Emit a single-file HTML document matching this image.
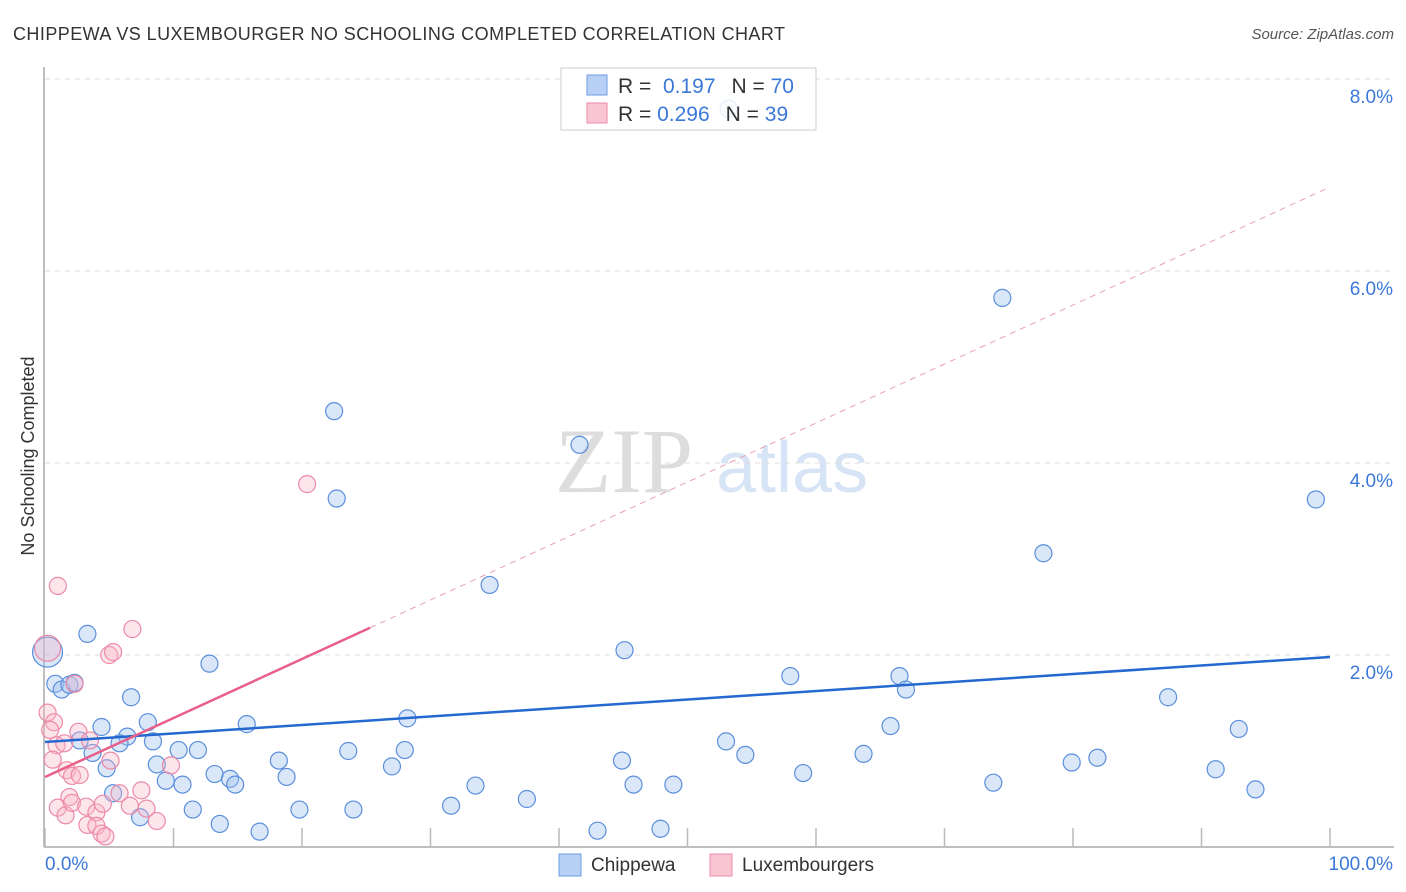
<!DOCTYPE html>
<html><head><meta charset="utf-8"><style>
body{margin:0;background:#fff;font-family:"Liberation Sans",sans-serif}
svg{display:block}
</style></head><body>
<svg id="c" width="1406" height="892" xmlns="http://www.w3.org/2000/svg">
<text x="13" y="40" font-size="18" fill="#333" textLength="772">CHIPPEWA VS LUXEMBOURGER NO SCHOOLING COMPLETED CORRELATION CHART</text>
<text x="1394" y="39" font-size="15" fill="#555" font-style="italic" text-anchor="end">Source: ZipAtlas.com</text>
<text x="0" y="0" transform="translate(34,456) rotate(-90)" font-size="18" fill="#333" text-anchor="middle">No Schooling Completed</text>
<g><text x="555" y="492" font-size="92" font-family="Liberation Serif" fill="#ddd">ZIP</text><text x="716" y="492" font-size="72" fill="#d6e4f5">atlas</text></g>
<g id="grid"></g><g id="pts"></g><g id="lines"></g>
<g>
<rect x="561" y="68" width="255" height="62" fill="rgba(255,255,255,0.85)" stroke="#ccc"/>
<rect x="587" y="75" width="20" height="20" fill="#b8d0f5" stroke="#6a9be0"/>
<rect x="587" y="103" width="20" height="20" fill="#fac5d3" stroke="#ec8aa8"/>
<text x="618" y="93" font-size="21" fill="#333">R = <tspan fill="#3b78d8">&#160;0.197</tspan><tspan dx="16">N = </tspan><tspan fill="#3b78d8">70</tspan></text>
<text x="618" y="121" font-size="21" fill="#333">R = <tspan fill="#3b78d8">0.296</tspan><tspan dx="16">N = </tspan><tspan fill="#3b78d8">39</tspan></text>
</g>
<g>
<rect x="559" y="854" width="22" height="22" fill="#b8d0f5" stroke="#6a9be0"/>
<text x="591" y="871" font-size="19" fill="#333">Chippewa</text>
<rect x="710" y="854" width="22" height="22" fill="#fac5d3" stroke="#ec8aa8"/>
<text x="742" y="871" font-size="19" fill="#333">Luxembourgers</text>
</g>
</svg>
<script>
const blueX=[0.2,0.8,1.3,1.9,2.3,3.3,6.7,4.4,6.4,5.8,2.7,3.7,8.0,8.4,8.7,4.8,5.3,7.4,9.4,10.7,10.4,11.9,12.8,13.2,14.4,14.8,11.5,13.6,15.7,16.7,18.2,18.8,19.8,22.5,22.7,23.6,24.0,27.0,28.0,28.2,31.6,33.5,34.6,37.5,41.6,43.0,44.9,45.1,45.8,47.9,48.9,53.0,54.5,53.2,58.0,59.0,63.7,65.8,66.5,67.0,73.8,74.5,77.7,79.9,81.9,87.4,91.1,92.9,94.2,98.9];
const blueY=[2.03,1.70,1.64,1.69,1.71,2.22,1.56,1.25,1.15,1.08,1.11,0.98,1.30,1.10,0.86,0.82,0.56,0.31,0.69,0.65,1.01,1.01,1.91,0.76,0.71,0.65,0.39,0.24,1.28,0.16,0.90,0.73,0.39,4.54,3.63,1.00,0.39,0.84,1.01,1.34,0.43,0.64,2.73,0.50,4.19,0.17,0.90,2.05,0.65,0.19,0.65,1.10,0.96,7.69,1.78,0.77,0.97,1.26,1.78,1.64,0.67,5.72,3.06,0.88,0.93,1.56,0.81,1.23,0.60,3.62];
const pinkX=[1.0,6.8,5.0,20.4,0.2,2.3,0.2,0.7,0.4,0.9,1.5,2.6,3.5,0.6,1.7,2.1,2.7,1.9,1.0,1.6,2.1,3.2,4.0,4.5,3.3,4.0,4.4,4.7,5.1,5.8,6.6,7.5,7.9,8.7,9.8,5.3];
const pinkY=[2.72,2.27,2.0,3.78,2.07,1.70,1.40,1.30,1.22,1.06,1.08,1.20,1.11,0.91,0.80,0.74,0.75,0.52,0.41,0.33,0.46,0.42,0.36,0.45,0.23,0.22,0.14,0.11,0.90,0.56,0.43,0.59,0.40,0.27,0.85,2.03];
const bigIdx=[0];
const trendB=[1.094,1.979], trendP=[0.729,6.875], pinkSolidEnd=25.3;
const yTicks=[2,4,6,8], yLabels=["2.0%","4.0%","6.0%","8.0%"];
const xTicks=[0,10,20,30,40,50,60,70,80,90,100];
const X=v=>45+v*12.85, Y=v=>847-v*96;
const NS="http://www.w3.org/2000/svg";
function mk(t,a,p){const e=document.createElementNS(NS,t);for(const k in a)e.setAttribute(k,a[k]);p.appendChild(e);return e;}
const g=document.getElementById('grid');
yTicks.forEach((t,i)=>{
 const l=mk('line',{x1:45,x2:1394,y1:Y(t),y2:Y(t),stroke:'#ddd','stroke-dasharray':'5,5'},g);
 
 
 const tx=mk('text',{x:1393,y:Y(t)+24,'font-size':19,fill:'#3b78d8','text-anchor':'end'},g);tx.textContent=yLabels[i];
 
 
});
const ax=mk('line',{x1:44,x2:44,y1:67,y2:847,stroke:'#aaa','stroke-width':1.5},g);


const bx=mk('line',{x1:44,x2:1394,y1:847,y2:847,stroke:'#aaa','stroke-width':1.5},g);


xTicks.forEach(t=>{const l=mk('line',{x1:X(t),x2:X(t),y1:828,y2:847,stroke:'#bbb','stroke-width':1.5},g);
 
 });
[["0.0%",45,'start'],["100.0%",1393,'end']].forEach(a=>{const t=mk('text',{x:a[1],y:870,'font-size':19,fill:'#3b78d8','text-anchor':a[2]},g);t.textContent=a[0];
 
 });
const p=document.getElementById('pts');
blueX.forEach((x,i)=>{const r=bigIdx.includes(i)?15:8.5;const c=mk('circle',{cx:X(x),cy:Y(blueY[i]),r:r,fill:'rgba(160,195,240,0.4)',stroke:'#5b8fdc','stroke-width':1.2},p);
 
 });
pinkX.forEach((x,i)=>{const r=i===4?13:8.5;const c=mk('circle',{cx:X(x),cy:Y(pinkY[i]),r:r,fill:'rgba(248,180,200,0.35)',stroke:'#ec8aa8','stroke-width':1.2},p);
 
 });
const L=document.getElementById('lines');
const lb=mk('line',{x1:X(0),y1:Y(trendB[0]),x2:X(100),y2:Y(trendB[1]),stroke:'#2468d0','stroke-width':2.5},L);


const pe=trendP[0]+(trendP[1]-trendP[0])*pinkSolidEnd/100;
const lp=mk('line',{x1:X(0),y1:Y(trendP[0]),x2:X(pinkSolidEnd),y2:Y(pe),stroke:'#e8608a','stroke-width':2.5},L);


const ld=mk('line',{x1:X(pinkSolidEnd),y1:Y(pe),x2:X(100),y2:Y(trendP[1]),stroke:'#e8a0b5','stroke-width':1,'stroke-dasharray':'6,5'},L);


</script>
</body></html>
